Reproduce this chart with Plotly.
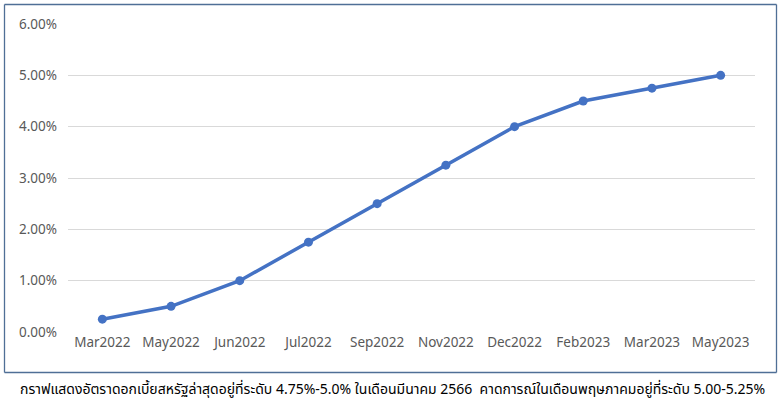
import plotly.graph_objects as go

months = ["Mar2022", "May2022", "Jun2022", "Jul2022", "Sep2022", "Nov2022",
          "Dec2022", "Feb2023", "Mar2023", "May2023"]
rates = [0.25, 0.50, 1.00, 1.75, 2.50, 3.25, 4.00, 4.50, 4.75, 5.00]
y_ticks = [0, 1, 2, 3, 4, 5, 6]
y_tick_text = ["0.00%", "1.00%", "2.00%", "3.00%", "4.00%", "5.00%", "6.00%"]
caption = "กราฟแสดงอัตราดอกเบี้ยสหรัฐล่าสุดอยู่ที่ระดับ 4.75%-5.0% ในเดือนมีนาคม 2566  คาดการณ์ในเดือนพฤษภาคมอยู่ที่ระดับ 5.00-5.25%"

W, H = 783, 409
PL, PR, PT, PB = 68, 755, 24, 332
L, T, R, B = PL, PT, W - PR, H - PB
pw, ph = PR - PL, PB - PT

fig = go.Figure(go.Scatter(
    x=months, y=rates, mode="lines+markers",
    line=dict(color="#4472C4", width=3.5),
    marker=dict(color="#4472C4", size=9),
    hoverinfo="x+y",
))

def px2x(px):
    return (px - PL) / pw

def px2y(py):
    return (PB - py) / ph

bx0, bx1, by0, by1 = px2x(4.5), px2x(776.5), px2y(372.5), px2y(4.5)
border = dict(color="#4F6F96", width=1.3)
for (xa, ya, xb, yb) in [(bx0, by1, bx1, by1), (bx0, by0, bx1, by0),
                         (bx0, by0, bx0, by1), (bx1, by0, bx1, by1)]:
    fig.add_shape(type="line", xref="paper", yref="paper",
                  x0=xa, y0=ya, x1=xb, y1=yb, line=border, layer="above")

fig.add_annotation(text=caption, xref="paper", yref="paper",
                   x=px2x(392), y=px2y(390), showarrow=False,
                   xanchor="center", yanchor="middle",
                   font=dict(size=14, color="#000000",
                             family="Tahoma, 'Noto Sans Thai', 'Noto Sans', sans-serif"))

fig.update_layout(
    width=W, height=H,
    margin=dict(l=L, r=R, t=T, b=B),
    paper_bgcolor="white", plot_bgcolor="white",
    showlegend=False,
    font=dict(family="'Noto Sans', Calibri, sans-serif", size=13.5, color="#595959"),
    xaxis=dict(range=[-0.5, len(months) - 0.5], showgrid=False, showline=False,
               zeroline=False, ticks="", tickfont=dict(size=13.5, color="#595959")),
    yaxis=dict(range=[0, 6], tickvals=y_ticks, ticktext=y_tick_text,
               showgrid=True, gridcolor="#D9D9D9", gridwidth=1,
               zeroline=False, showline=False, ticks="",
               tickfont=dict(size=13.5, color="#595959"), ticklabelstandoff=10),
)

fig.write_html("out.html", config={"displayModeBar": False},
               post_script="document.body.style.margin='0';document.body.style.overflow='hidden';")
